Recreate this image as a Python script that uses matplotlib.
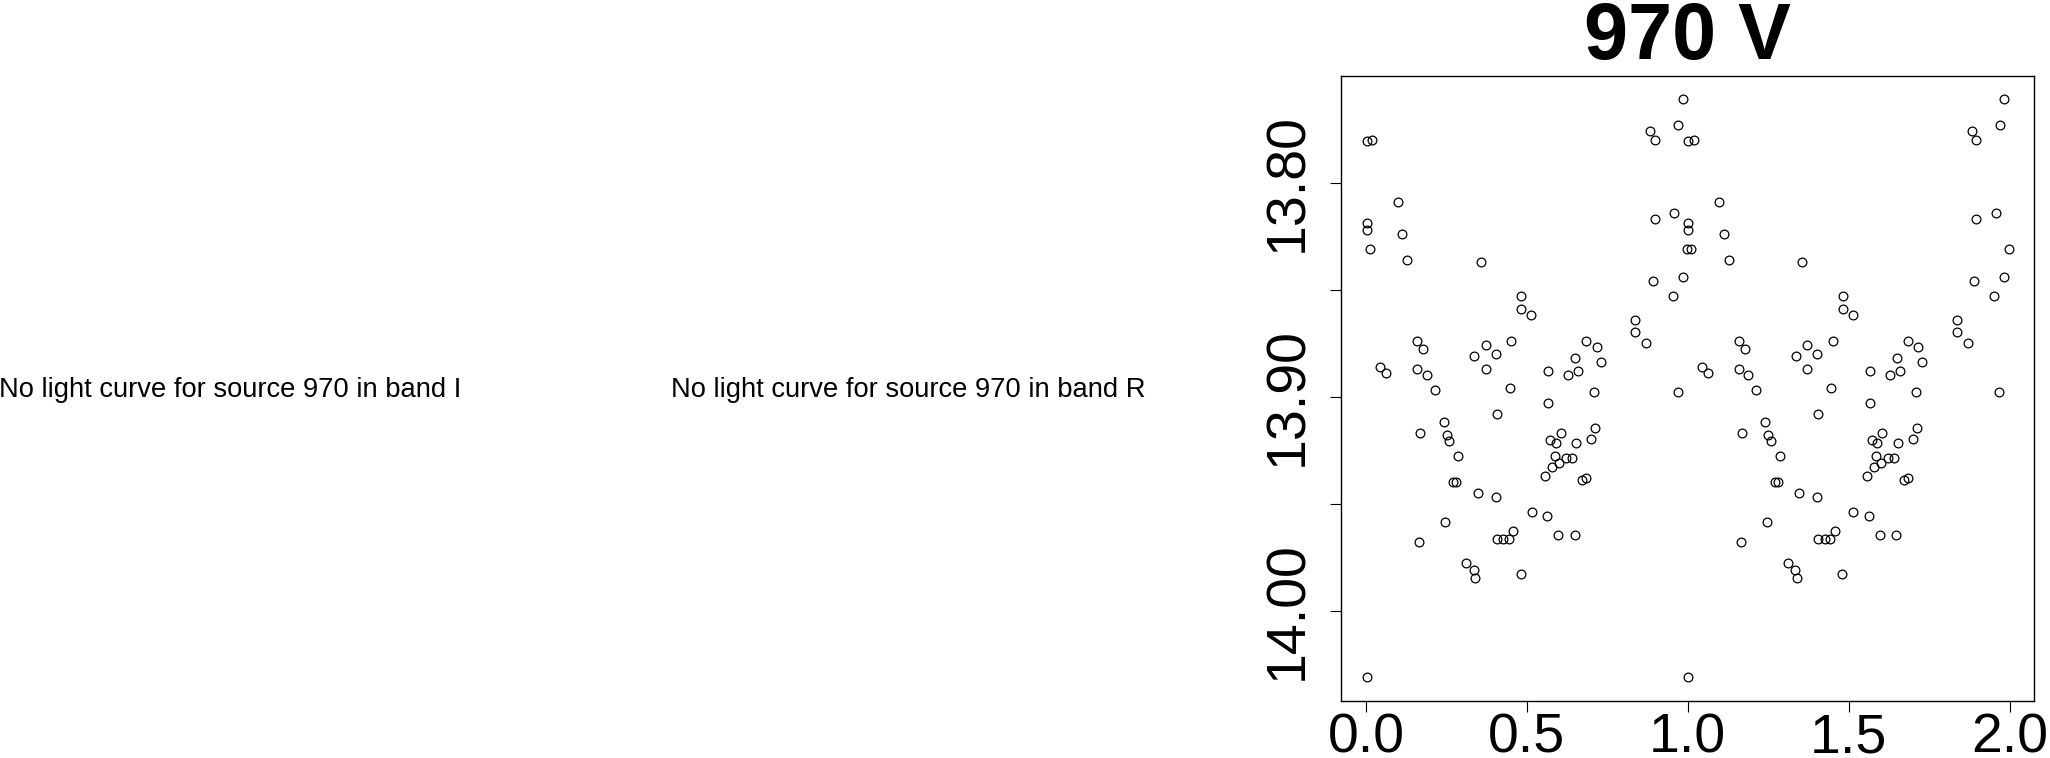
import matplotlib
matplotlib.use("Agg")
import matplotlib.pyplot as plt
import numpy as np

plt.rcParams["font.family"] = ["Liberation Sans", "DejaVu Sans"]

# folded light curve of source 970, band V (phase in [0, 1), magnitude)
phase = [0.002, 0.019, 0.002, 0.002, 0.011, 0.002, 0.043, 0.063, 0.098, 0.112,
         0.127, 0.159, 0.177, 0.159, 0.188, 0.169, 0.165, 0.213, 0.241, 0.250,
         0.258, 0.287, 0.270, 0.279, 0.246, 0.310, 0.334, 0.339, 0.335, 0.347,
         0.356, 0.372, 0.372, 0.403, 0.406, 0.403, 0.406, 0.425, 0.443, 0.457,
         0.451, 0.446, 0.483, 0.483, 0.512, 0.480, 0.515, 0.565, 0.565, 0.573,
         0.589, 0.586, 0.578, 0.599, 0.557, 0.563, 0.596, 0.605, 0.621, 0.640,
         0.629, 0.650, 0.658, 0.653, 0.648, 0.671, 0.685, 0.685, 0.717, 0.729,
         0.708, 0.713, 0.700, 0.836, 0.836, 0.870, 0.883, 0.897, 0.897, 0.891,
         0.953, 0.957, 0.971, 0.984, 0.984, 0.968, 0.997]
mag = [13.7806, 13.7799, 13.8189, 13.8219, 13.8309, 14.0307, 13.8859, 13.8888, 13.8090, 13.8239,
       13.8359, 13.8740, 13.8778, 13.8870, 13.8900, 13.9168, 13.9678, 13.8970, 13.9118, 13.9179,
       13.9209, 13.9278, 13.9398, 13.9398, 13.9587, 13.9779, 13.9808, 13.9847, 13.8809, 13.9448,
       13.8370, 13.8760, 13.8870, 13.8800, 13.9080, 13.9468, 13.9666, 13.9666, 13.9666, 13.9628,
       13.8740, 13.8961, 13.8528, 13.8589, 13.8618, 13.9826, 13.9538, 13.8879, 13.9028, 13.9200,
       13.9218, 13.9278, 13.9328, 13.9308, 13.9369, 13.9558, 13.9648, 13.9168, 13.9287, 13.9287,
       13.8900, 13.8818, 13.8879, 13.9218, 13.9648, 13.9389, 13.9380, 13.8740, 13.8769, 13.8839,
       13.8979, 13.9148, 13.9197, 13.8640, 13.8699, 13.8749, 13.7759, 13.7799, 13.8169, 13.8460,
       13.8528, 13.8140, 13.7729, 13.7610, 13.8440, 13.8979, 13.8309]

x_ticks = [0.0, 0.5, 1.0, 1.5, 2.0]
x_labels = ["0.0", "0.5", "1.0", "1.5", "2.0"]
y_ticks = [13.80, 13.85, 13.90, 13.95, 14.00]
y_labels = ["13.80", "", "13.90", "", "14.00"]

missing_bands = ["I", "R"]

fig = plt.figure(figsize=(20.5, 7.58), dpi=100)

# empty panels for bands without data
for xc, band in zip([230 / 2050, 908 / 2050], missing_bands):
    fig.text(xc, 1 - 397 / 758, f"No light curve for source 970 in band {band}",
             ha="center", va="baseline", fontsize=19.7)

ax = fig.add_axes([1341 / 2050, 1 - 700.7 / 758, 693.3 / 2050, 625 / 758])

# two cycles, same points shifted by one in phase
ph = np.array(phase)
m = np.array(mag)
ax.plot(np.concatenate([ph, ph + 1]), np.concatenate([m, m]), "o",
        ms=6.3, mfc="none", mec="black", mew=0.9)

ax.set_xlim(-0.078, 2.077)
ax.set_ylim(14.042, 13.750)

ax.set_xticks(x_ticks)
ax.set_xticklabels(x_labels, fontsize=40)
ax.set_yticks(y_ticks)
ax.set_yticklabels(y_labels, fontsize=40, rotation=90, va="center")
ax.tick_params(axis="both", direction="out", length=8.1, width=0.8)
ax.tick_params(axis="x", pad=0.5)
ax.tick_params(axis="y", pad=11)

for s in ax.spines.values():
    s.set_linewidth(1.0)

ax.set_title("970 V", fontsize=57, fontweight="bold", pad=10)

fig.savefig("out.png", dpi=100)
